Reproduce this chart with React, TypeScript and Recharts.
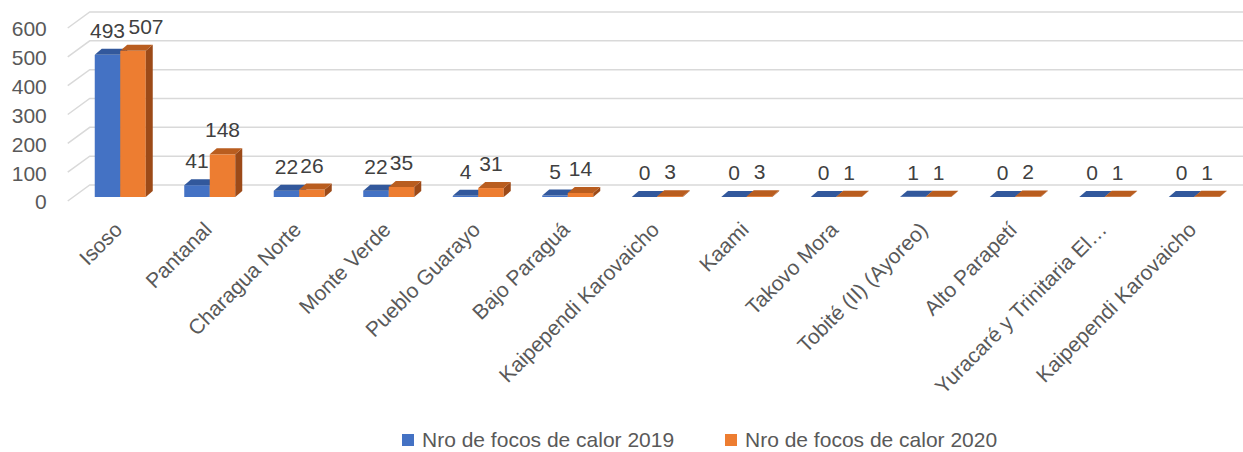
import React from 'react';
import { BarChart, Bar, XAxis, YAxis, CartesianGrid, Legend } from 'recharts';

const categories = [
  'Isoso',
  'Pantanal',
  'Charagua Norte',
  'Monte Verde',
  'Pueblo Guarayo',
  'Bajo Paraguá',
  'Kaipependi Karovaicho',
  'Kaami',
  'Takovo Mora',
  'Tobité (II) (Ayoreo)',
  'Alto Parapetí',
  'Yuracaré y Trinitaria El…',
  'Kaipependi Karovaicho',
];
const focos2019 = [493, 41, 22, 22, 4, 5, 0, 0, 0, 1, 0, 0, 0];
const focos2020 = [507, 148, 26, 35, 31, 14, 3, 3, 1, 1, 2, 1, 1];
const yTicks = [0, 100, 200, 300, 400, 500, 600];
const seriesNames = ['Nro de focos de calor 2019', 'Nro de focos de calor 2020'];

const data = categories.map((name, i) => ({ name, y2019: focos2019[i], y2020: focos2020[i] }));

const FONT = "'Liberation Sans', Arial, sans-serif";
const W = 1243;
const H = 452;
const DX = 7;
const DY = 6;

const colors = [
  { front: '#4472C4', top: '#32589C', side: '#2F5291' },
  { front: '#ED7D31', top: '#B95D1F', side: '#9C4A18' },
];

function Bar3D(props: any) {
  const { x, y, width, height, palette } = props;
  if (x == null || y == null) return null;
  const h = Math.max(height || 0, 0);
  const top = `${x},${y} ${x + DX},${y - DY} ${x + width + DX},${y - DY} ${x + width},${y}`;
  const side = `${x + width},${y} ${x + width + DX},${y - DY} ${x + width + DX},${y + h - DY} ${x + width},${y + h}`;
  return (
    <g>
      <rect x={x} y={y} width={width} height={h} fill={palette.front} />
      <polygon points={side} fill={palette.side} />
      <polygon points={top} fill={palette.top} />
    </g>
  );
}

const makeLabel = (series: number) => (p: any) => {
  const { x, y, width, value } = p;
  const index = p.index ?? 0;
  let dx = 0;
  // Excel nudges the 2020 label right when both values are wide
  if (series === 1 && focos2019[index] >= 100 && value >= 100) dx = 13;
  return (
    <text
      x={x + width / 2 + dx}
      y={y - 17}
      textAnchor="middle"
      fontFamily={FONT}
      fontSize={21}
      fill="#404040"
    >
      {value}
    </text>
  );
};

const YTick = (p: any) => (
  <text x={p.x - 29} y={p.y + 5} dy="0.35em" textAnchor="end" fontFamily={FONT} fontSize={21} fill="#595959">
    {p.payload.value}
  </text>
);

const XTick = (p: any) => (
  <text
    transform={`translate(${p.x + 3},${p.y + 34}) rotate(-45)`}
    textAnchor="end"
    fontFamily={FONT}
    fontSize={21}
    fill="#595959"
  >
    {p.payload.value}
  </text>
);

const GridLine = (p: any) => {
  const { x1, y1 } = p;
  return (
    <polyline
      key={p.key}
      points={`${x1 - 8},${y1 + 4} ${x1 + 14},${y1 - 12} ${W},${y1 - 12}`}
      fill="none"
      stroke="#D9D9D9"
      strokeWidth={1.5}
    />
  );
};

const LegendContent = () => (
  <div style={{ display: 'flex', alignItems: 'flex-end', height: 30, fontFamily: FONT, fontSize: 21, color: '#595959' }}>
    {seriesNames.map((n, i) => (
      <div key={n} style={{ display: 'flex', alignItems: 'center', height: 24, width: i === 0 ? 323 : 'auto' }}>
        <span style={{ width: 12, height: 12, background: colors[i].front, marginRight: 8, display: 'inline-block' }} />
        <span style={{ lineHeight: '24px', whiteSpace: 'nowrap' }}>{n}</span>
      </div>
    ))}
  </div>
);

export default function App() {
  return (
    <div style={{ position: 'absolute', left: 0, top: 0, width: W, height: H, background: '#fff' }}>
      <BarChart
        width={W}
        height={H}
        data={data}
        margin={{ top: 24, right: 3.75, bottom: 0, left: 0 }}
        barGap={0}
        barSize={25.5}
      >
        <CartesianGrid vertical={false} horizontal={GridLine as any} />
        <XAxis
          dataKey="name"
          interval={0}
          axisLine={false}
          tickLine={false}
          tickSize={0}
          tickMargin={0}
          height={225}
          tick={<XTick />}
        />
        <YAxis
          type="number"
          domain={[0, 600]}
          ticks={yTicks}
          width={75.75}
          axisLine={false}
          tickLine={false}
          tickSize={0}
          tickMargin={0}
          tick={<YTick />}
        />
        <Legend verticalAlign="bottom" content={<LegendContent />} wrapperStyle={{ left: 402, width: 'auto' }} />
        <Bar
          dataKey="y2019"
          name={seriesNames[0]}
          fill={colors[0].front}
          isAnimationActive={false}
          shape={(p: any) => <Bar3D {...p} palette={colors[0]} />}
          label={makeLabel(0)}
        />
        <Bar
          dataKey="y2020"
          name={seriesNames[1]}
          fill={colors[1].front}
          isAnimationActive={false}
          shape={(p: any) => <Bar3D {...p} palette={colors[1]} />}
          label={makeLabel(1)}
        />
      </BarChart>
    </div>
  );
}
